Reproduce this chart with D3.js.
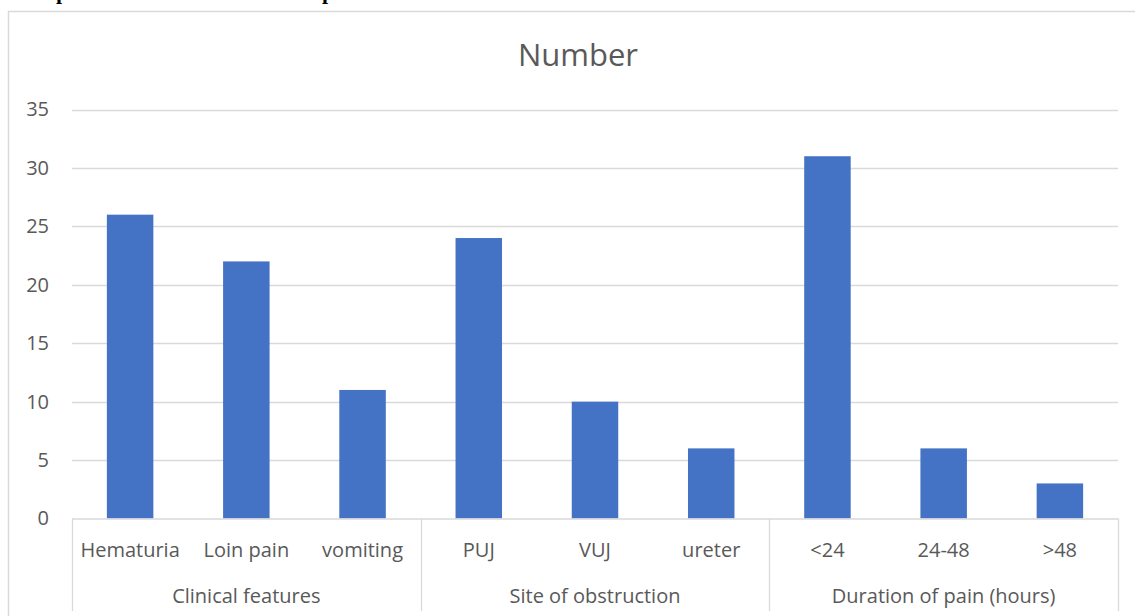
<!DOCTYPE html>
<html><head><meta charset="utf-8">
<script src="https://cdn.jsdelivr.net/npm/d3@7"></script>
<style>body{margin:0;background:#fff}svg{display:block}</style>
</head><body>
<svg id="c" width="1135" height="616"></svg>
<script>
const categories = ["Hematuria","Loin pain","vomiting","PUJ","VUJ","ureter","<24","24-48",">48"];
const groups = ["Clinical features","Clinical features","Clinical features","Site of obstruction","Site of obstruction","Site of obstruction","Duration of pain (hours)","Duration of pain (hours)","Duration of pain (hours)"];
const values = [26,22,11,24,10,6,31,6,3];
const yTicks = [0,5,10,15,20,25,30,35];
const title = "Number";

const svg = d3.select("#c");
const font = "'Open Sans', sans-serif";
const textCol = "#595959", gridCol = "#d9d9d9";

// cut-off text from document above
svg.append("text").attr("x",56).attr("y",-1).attr("font-family","'Liberation Serif', serif").attr("font-weight","bold").attr("font-size",22).text("p");
svg.append("text").attr("x",322).attr("y",-1).attr("font-family","'Liberation Serif', serif").attr("font-weight","bold").attr("font-size",22).text("p");

// chart border
svg.append("rect").attr("x",8.5).attr("y",11.5).attr("width",1200).attr("height",700)
  .attr("fill","none").attr("stroke",gridCol).attr("stroke-width",1.5);

const L=72, R=1118, T=109.5, B=518.5;
const x = d3.scaleBand().domain(d3.range(categories.length)).range([L,R]).paddingInner(0.6).paddingOuter(0.3);
const xs = d3.scaleBand().domain(d3.range(categories.length)).range([L,R]);
const y = d3.scaleLinear().domain([0,35]).range([B,T]);

svg.append("text").attr("x",578).attr("y",55).attr("dy","0.35em").attr("text-anchor","middle")
  .attr("font-family",font).attr("font-size",31).attr("fill",textCol).text(title);

// grid
svg.append("g").selectAll("line").data(yTicks.filter(d=>d>0)).join("line")
  .attr("x1",L).attr("x2",R).attr("y1",d=>Math.round(y(d))+0.5).attr("y2",d=>Math.round(y(d))+0.5)
  .attr("stroke",gridCol).attr("stroke-width",1.3);

// y labels
const yAxis = d3.axisLeft(y).tickValues(yTicks).tickSize(0).tickPadding(0);
const ga = svg.append("g").attr("transform",`translate(49,0)`).call(yAxis);
ga.select(".domain").remove();
ga.selectAll("text").attr("font-family",font).attr("font-size",20).attr("fill",textCol);

// bars
svg.append("g").selectAll("rect").data(values).join("rect")
  .attr("x",(d,i)=>x(i)).attr("width",x.bandwidth())
  .attr("y",d=>y(d)).attr("height",d=>y(0)-y(d)).attr("fill","#4472C4");

// baseline
svg.append("line").attr("x1",L).attr("x2",R).attr("y1",B+0.5).attr("y2",B+0.5).attr("stroke",gridCol).attr("stroke-width",1.3);

// category labels
svg.append("g").selectAll("text").data(categories).join("text")
  .attr("x",(d,i)=>xs(i)+xs.bandwidth()/2).attr("y",550).attr("dy","0.35em").attr("text-anchor","middle")
  .attr("font-family",font).attr("font-size",20).attr("fill",textCol).text(d=>d);

// group separators and labels
const uniq = Array.from(new Set(groups));
const bounds = uniq.map(g=>{const idx=groups.map((v,i)=>v===g?i:-1).filter(i=>i>=0);return {g,s:xs(idx[0]),e:xs(idx[idx.length-1])+xs.bandwidth()};});
const seps = [bounds[0].s, ...bounds.map(b=>b.e)];
svg.append("g").selectAll("line").data(seps).join("line")
  .attr("x1",d=>Math.round(d)+0.5).attr("x2",d=>Math.round(d)+0.5).attr("y1",B).attr("y2",611)
  .attr("stroke",gridCol).attr("stroke-width",1.3);
svg.append("g").selectAll("text").data(bounds).join("text")
  .attr("x",d=>(d.s+d.e)/2).attr("y",596).attr("dy","0.35em").attr("text-anchor","middle")
  .attr("font-family",font).attr("font-size",20).attr("fill",textCol).text(d=>d.g);
</script>
</body></html>
